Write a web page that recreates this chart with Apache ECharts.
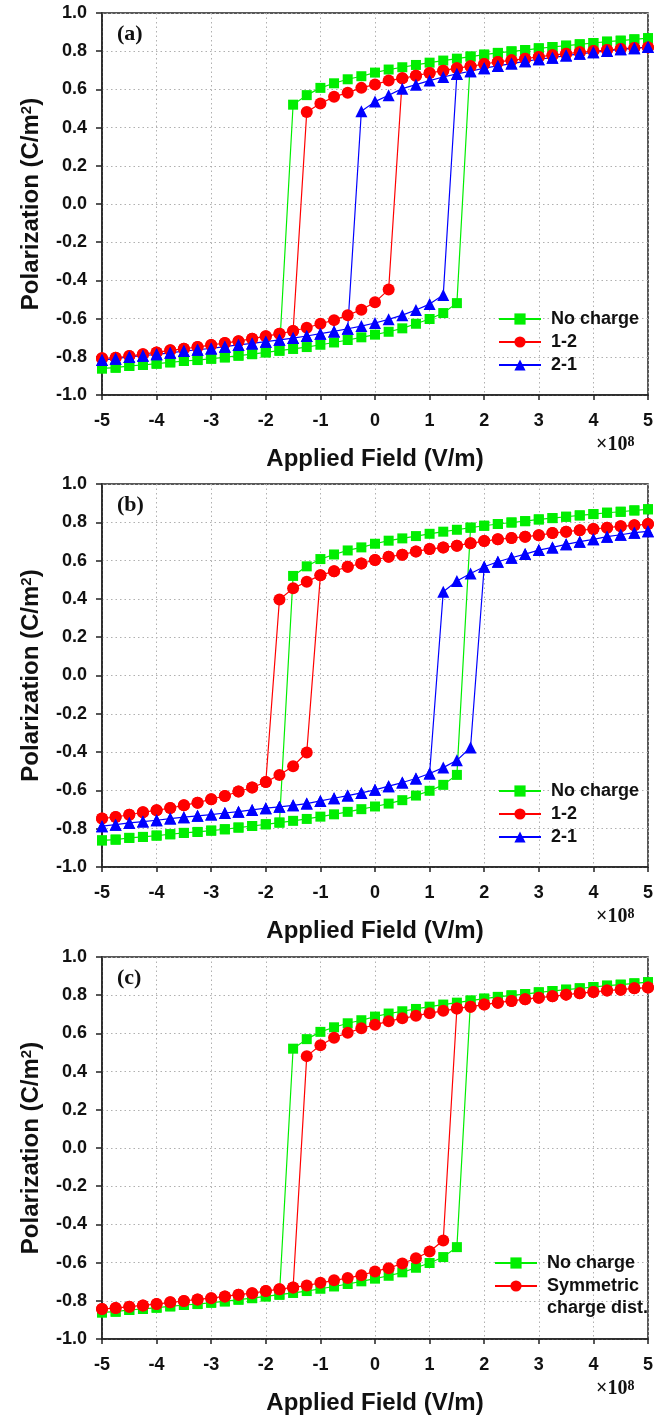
<!DOCTYPE html>
<html><head><meta charset="utf-8">
<script src="https://cdn.jsdelivr.net/npm/echarts@6/dist/echarts.min.js"></script>
<style>html,body{margin:0;padding:0;background:#fff}#c{width:665px;height:1416px}</style>
</head><body><div id="c"></div>
<script>
// Applied field (x 1e8 V/m)
const field = [-5,-4.75,-4.5,-4.25,-4,-3.75,-3.5,-3.25,-3,-2.75,-2.5,-2.25,-2,-1.75,-1.5,-1.25,-1,-0.75,-0.5,-0.25,0,
  0.25,0.5,0.75,1,1.25,1.5,1.75,2,2.25,2.5,2.75,3,3.25,3.5,3.75,4,4.25,4.5,4.75,5];
const xTicks = [-5,-4,-3,-2,-1,0,1,2,3,4,5];
const yTicks = [-1.0,-0.8,-0.6,-0.4,-0.2,0.0,0.2,0.4,0.6,0.8,1.0];

// Upper branch: values from its first field point up to x=5. Lower branch: from x=-5 up to its last point.
const noChargeUpper = [0.52,0.57,0.608,0.632,0.653,0.669,0.688,0.704,0.716,0.728,0.740,0.751,0.761,0.772,0.782,0.791,0.799,0.806,0.815,0.822,0.829,0.836,0.843,0.850,0.855,0.862,0.868];
const noChargeLower = [-0.861,-0.857,-0.848,-0.843,-0.836,-0.829,-0.822,-0.817,-0.810,-0.803,-0.794,-0.786,-0.777,-0.768,-0.759,-0.749,-0.737,-0.725,-0.712,-0.698,-0.684,-0.669,-0.651,-0.627,-0.602,-0.571,-0.519];

const a12Upper = [0.482,0.526,0.561,0.583,0.608,0.626,0.646,0.658,0.672,0.686,0.698,0.711,0.721,0.733,0.744,0.752,0.761,0.770,0.779,0.787,0.794,0.801,0.806,0.812,0.817,0.820];
const a12Lower = [-0.808,-0.805,-0.796,-0.786,-0.777,-0.766,-0.758,-0.749,-0.738,-0.728,-0.718,-0.705,-0.693,-0.679,-0.665,-0.648,-0.627,-0.608,-0.582,-0.554,-0.514,-0.448];
const a21Upper = [0.486,0.536,0.569,0.604,0.625,0.646,0.665,0.681,0.695,0.711,0.723,0.735,0.747,0.758,0.766,0.777,0.786,0.794,0.801,0.810,0.815,0.822];
const a21Lower = [-0.817,-0.810,-0.801,-0.794,-0.787,-0.779,-0.770,-0.763,-0.756,-0.747,-0.738,-0.730,-0.721,-0.711,-0.702,-0.691,-0.679,-0.667,-0.653,-0.639,-0.623,-0.604,-0.582,-0.555,-0.524,-0.477];

const b12Upper = [0.397,0.455,0.490,0.523,0.545,0.568,0.585,0.603,0.620,0.631,0.648,0.660,0.669,0.678,0.690,0.702,0.711,0.718,0.725,0.732,0.744,0.751,0.758,0.765,0.772,0.779,0.784,0.791];
const b12Lower = [-0.747,-0.739,-0.727,-0.714,-0.704,-0.692,-0.678,-0.664,-0.646,-0.629,-0.606,-0.585,-0.556,-0.519,-0.474,-0.402];
const b21Upper = [0.437,0.493,0.533,0.568,0.594,0.615,0.634,0.655,0.669,0.685,0.699,0.711,0.725,0.735,0.746,0.753];
const b21Lower = [-0.787,-0.779,-0.770,-0.763,-0.756,-0.747,-0.740,-0.733,-0.726,-0.718,-0.711,-0.702,-0.693,-0.686,-0.678,-0.669,-0.655,-0.641,-0.627,-0.613,-0.597,-0.578,-0.559,-0.538,-0.512,-0.481,-0.443,-0.376];

const symUpper = [0.481,0.538,0.577,0.603,0.627,0.645,0.664,0.679,0.692,0.706,0.718,0.730,0.740,0.751,0.761,0.770,0.779,0.787,0.794,0.803,0.810,0.817,0.824,0.829,0.836,0.840];
const symLower = [-0.843,-0.838,-0.831,-0.824,-0.817,-0.808,-0.801,-0.793,-0.786,-0.777,-0.768,-0.760,-0.749,-0.739,-0.730,-0.720,-0.706,-0.693,-0.681,-0.666,-0.646,-0.629,-0.605,-0.577,-0.542,-0.484];

const panelLabels = ['(a)','(b)','(c)'];

// Build the hysteresis path: descending along the upper branch, then lower branch; ascending along lower, then upper.
function loop(upper, lower){
  const n = field.length;
  const u0 = n - upper.length;
  const l1 = lower.length - 1;
  const pts = [];
  for (let i = n - 1; i >= u0; i--) pts.push([field[i], upper[i - u0]]);
  for (let i = u0 - 1; i >= 0; i--) pts.push([field[i], lower[i]]);
  for (let i = 0; i <= l1; i++) pts.push([field[i], lower[i]]);
  for (let i = l1 + 1; i < n; i++) pts.push([field[i], upper[i - u0]]);
  return pts;
}

const GREEN = '#00ee00', RED = '#ff0000', BLUE = '#0000ff';
const FONT = '"Liberation Sans", Arial, sans-serif';
const SERIF = '"Liberation Serif", "Times New Roman", serif';
const gridTops = [13, 484, 957];
const gridH = [382, 383, 382];

function mkSeries(name, color, symbol, size, data, gi){
  return {name, type:'line', xAxisIndex:gi, yAxisIndex:gi, data, color,
    symbol, symbolSize:size, showAllSymbol:true, animation:false,
    lineStyle:{color, width:1.2}, itemStyle:{color}};
}

const grids = [], xAxes = [], yAxes = [], graphics = [];
for (let g = 0; g < 3; g++){
  grids.push({left:102, right:17, top:gridTops[g], height:gridH[g], show:true, borderColor:'#222', borderWidth:1.5, backgroundColor:'transparent', containLabel:false});
  xAxes.push({gridIndex:g, type:'value', min:xTicks[0], max:xTicks[xTicks.length-1], interval:1,
    axisLine:{show:true, onZero:false, lineStyle:{color:'#222', width:1.5}},
    axisTick:{show:true, length:5, lineStyle:{color:'#222', width:1.5}},
    axisLabel:{margin:17, fontFamily:FONT, fontWeight:'bold', fontSize:18, color:'#111'},
    splitLine:{show:true, lineStyle:{type:[1.5,3], color:'#b0b0b0', width:1}},
    name:'Applied Field (V/m)', nameLocation:'middle', nameGap:52,
    nameTextStyle:{fontFamily:FONT, fontWeight:'bold', fontSize:24, color:'#111'}});
  yAxes.push({gridIndex:g, type:'value', min:yTicks[0], max:yTicks[yTicks.length-1], interval:0.2,
    axisLine:{show:true, onZero:false, lineStyle:{color:'#222', width:1.5}},
    axisTick:{show:true, length:6, lineStyle:{color:'#222', width:1.5}},
    axisLabel:{margin:15, fontFamily:FONT, fontWeight:'bold', fontSize:18, color:'#111',
      formatter:v => (Math.abs(v) < 1e-9 ? 0 : v).toFixed(1)},
    splitLine:{show:true, lineStyle:{type:[1.5,3], color:'#b0b0b0', width:1}},
    name:'Polarization (C/m{sup|2})', nameLocation:'middle', nameGap:59, nameRotate:90,
    nameTextStyle:{fontFamily:FONT, fontWeight:'bold', fontSize:24, color:'#111',
      rich:{sup:{fontFamily:FONT, fontWeight:'bold', fontSize:15, color:'#111', verticalAlign:'top'}}}});
  graphics.push({type:'text', x:117, y:gridTops[g] + 21, style:{text:panelLabels[g], font:'bold 22px ' + SERIF, fill:'#111', verticalAlign:'middle'}});
  graphics.push({type:'text', x:596, y:gridTops[g] + gridH[g] + 40, style:{text:'×10{s|8}', font:'bold 20px ' + SERIF, fill:'#111', verticalAlign:'top',
    rich:{s:{font:'bold 14px ' + SERIF, fill:'#111', verticalAlign:'top'}}}});
}

const series = [
  mkSeries('No charge', GREEN, 'rect', 10, loop(noChargeUpper, noChargeLower), 0),
  mkSeries('1-2', RED, 'circle', 12, loop(a12Upper, a12Lower), 0),
  mkSeries('2-1', BLUE, 'triangle', 12, loop(a21Upper, a21Lower), 0),
  mkSeries('No charge', GREEN, 'rect', 10, loop(noChargeUpper, noChargeLower), 1),
  mkSeries('1-2', RED, 'circle', 12, loop(b12Upper, b12Lower), 1),
  mkSeries('2-1', BLUE, 'triangle', 12, loop(b21Upper, b21Lower), 1),
  mkSeries('No charge', GREEN, 'rect', 10, loop(noChargeUpper, noChargeLower), 2),
  mkSeries('Symmetric\ncharge dist.', RED, 'circle', 12, loop(symUpper, symLower), 2)
];

function legend(top, left, data, extra){
  return Object.assign({orient:'vertical', top, left, padding:0, itemWidth:42, itemHeight:14, itemGap:3, selectedMode:false,
    textStyle:{fontFamily:FONT, fontWeight:'bold', fontSize:18, color:'#111', lineHeight:20, padding:[0,0,0,5]}, data}, extra || {});
}

const chart = echarts.init(document.getElementById('c'), null, {renderer:'canvas'});
chart.setOption({
  animation:false,
  backgroundColor:'#fff',
  grid:grids, xAxis:xAxes, yAxis:yAxes, series,
  legend:[
    legend(309, 498, ['No charge','1-2','2-1']),
    legend(781, 498, ['No charge','1-2','2-1']),
    legend(1253, 494, ['No charge']),
    legend(1253, 494, ['Symmetric\ncharge dist.'], {
      // blank first line keeps the icon level with the first text line
      formatter: name => ' \n' + name,
      textStyle:{fontFamily:FONT, fontWeight:'bold', fontSize:18, color:'#111', lineHeight:22, padding:[0,0,0,5]}
    })
  ],
  graphic:graphics
});
</script></body></html>
